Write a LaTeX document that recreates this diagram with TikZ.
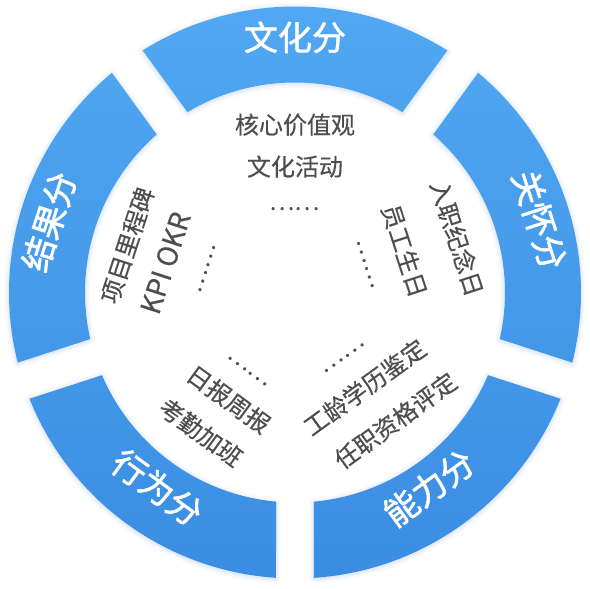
\documentclass[tikz,border=0pt]{standalone}
\usepackage{fontspec}
\newfontfamily\cjk{Noto Sans CJK SC}
\newfontfamily\cjklab{Noto Sans CJK SC}[FakeBold=1.6]
\newfontfamily\cjkitem{Noto Sans CJK SC}[FakeBold=0.4]
\definecolor{segtop}{RGB}{82,168,242}
\definecolor{segbot}{RGB}{58,141,226}
\definecolor{shadowblue}{RGB}{110,150,210}
\definecolor{textgray}{RGB}{78,78,78}
\begin{document}
\begin{tikzpicture}[x=1pt,y=1pt,
  seglabel/.style={font=\cjklab\fontsize{34}{34}\selectfont, text=white, inner sep=0pt, text height=0.88em, text depth=0.12em},
  itemtext/.style={font=\cjkitem\fontsize{24}{24}\selectfont, text=textgray, inner sep=0pt, text height=0.88em, text depth=0.12em},
  latintext/.style={font=\cjkitem\fontsize{27.5}{27.5}\selectfont, text=textgray, inner sep=0pt, text height=0.72em, text depth=0em},
  dotstext/.style={font=\cjk\fontsize{24}{24}\selectfont, text=textgray, inner sep=0pt}
]
\useasboundingbox (-295,-296.5) rectangle (295,292.5);
% soft shadow
\foreach \c in {90,18,-54,-126,162} {
  \foreach \w/\o in {10/0.035, 7/0.045, 4/0.06, 1.5/0.08} {
    \draw[line width=\w pt, draw=shadowblue, opacity=\o, line join=round]
      ([yshift=-1pt]{\c+32.19}:286) arc[start angle={\c+32.19}, end angle={\c-32.19}, radius=286]
      -- ([yshift=-1pt]{\c-30.81}:210) arc[start angle={\c-30.81}, end angle={\c+30.81}, radius=210] -- cycle;
  }
}
% ring segments
\shade[top color=segtop, bottom color=segbot]
  foreach \c in {90,18,-54,-126,162} {
    ({\c+32.19}:286) arc[start angle={\c+32.19}, end angle={\c-32.19}, radius=286]
    -- ({\c-30.81}:210) arc[start angle={\c-30.81}, end angle={\c+30.81}, radius=210] -- cycle
  };
% segment labels
\node[seglabel] (labwh) at (90:246) {文化分};
\node[seglabel, rotate=-72] (labgh) at (16.5:246) {关怀分};
\node[seglabel, rotate=36] (labnl) at (-55.5:246) {能力分};
\node[seglabel, rotate=-36] (labxw) at (-125.2:248) {行为分};
\node[seglabel, rotate=72] (labjg) at (164:247) {结果分};
% culture
\node[itemtext] (wh1) at (90:162.5) {核心价值观};
\node[itemtext] (wh2) at (90:120.5) {文化活动};
\node[dotstext] (wh3) at (90:83.5) {……};
% care
\node[itemtext, rotate=-72] (gh1) at (18.5:165.5) {入职纪念日};
\node[itemtext, rotate=-72] (gh2) at (21:112) {员工生日};
\node[dotstext, rotate=-72] (gh3) at (21.5:76) {……};
% ability
\node[dotstext, rotate=36] (nl1) at (-53:82) {……};
\node[itemtext, rotate=36] (nl2) at (-53.7:123) {工龄学历鉴定};
\node[itemtext, rotate=36] (nl3) at (-52:168) {任职资格评定};
% behaviour
\node[dotstext, rotate=-36] (xw1) at (-121:92) {……};
\node[itemtext, rotate=-36] (xw2) at (-122:131) {日报周报};
\node[itemtext, rotate=-36] (xw3) at (-124:174) {考勤加班};
% result
\node[itemtext, rotate=72] (jg1) at (164.4:169) {项目里程碑};
\node[latintext, rotate=72] (jg2) at (167.4:126.5) {KPI OKR};
\node[dotstext, rotate=72] (jg3) at (165.3:90.5) {……};
\end{tikzpicture}
\end{document}
